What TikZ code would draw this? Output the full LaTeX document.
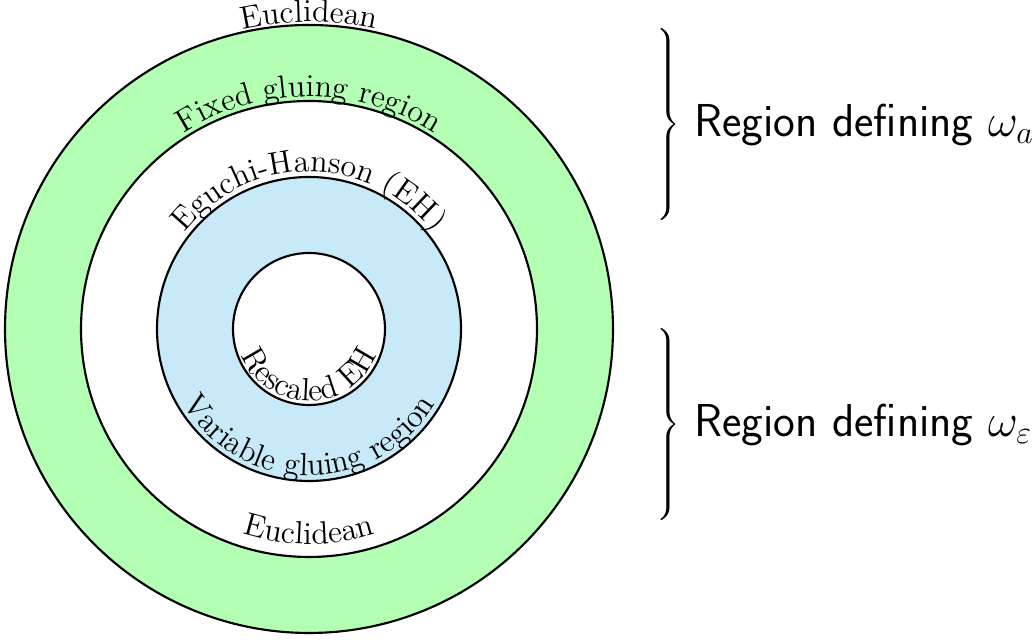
\documentclass[12pt,tikz,border=0pt]{standalone}
\usetikzlibrary{decorations.text}

\definecolor{gluegreen}{RGB}{179,255,179}
\definecolor{glueblue}{RGB}{199,233,248}

\tikzset{
  ring/.style={draw=black, thick},
  overlabel/.style={decorate, decoration={text along path, text={#1}, text align=center}},
  regionlabel/.style={anchor=west, inner sep=0pt, font=\sffamily\Large},
}

\begin{document}
\begin{tikzpicture}
    \useasboundingbox (-4.066,-4.118) rectangle (9.553,4.329);

    % annuli
    \fill[gluegreen] (0,0) circle (4);
    \fill[white] (0,0) circle (3);
    \fill[glueblue] (0,0) circle (2);
    \fill[white] (0,0) circle (1);
    \foreach \r in {1,...,4}
      \draw[ring] (0,0) circle (\r);

    % labels on top, reading clockwise
    \path[overlabel={Euclidean}] (180:4.04) arc[start angle=180, end angle=0, radius=4.04];
    \path[overlabel={Fixed gluing region}] (180:3.06) arc[start angle=180, end angle=0, radius=3.06];
    \path[overlabel={Eguchi-Hanson (EH)}] (180:2.07) arc[start angle=180, end angle=0, radius=2.07];

    % labels at the bottom, reading anticlockwise
    \path[overlabel={Euclidean}] (180:2.83) arc[start angle=180, end angle=360, radius=2.83];
    \path[overlabel={Variable gluing region}] (180:1.93) arc[start angle=180, end angle=360, radius=1.93];
    \path[overlabel={Rescaled EH}] (180:0.95) arc[start angle=180, end angle=360, radius=0.95];

    % braces
    \node[regionlabel] (omegaA) at (4.52,2.67)
      {$\left.\vrule height 1.15cm depth 1.15cm width 0pt\right\}$ Region defining $\omega_a$};
    \node[regionlabel] (omegaE) at (4.52,-1.28)
      {$\left.\vrule height 1.15cm depth 1.15cm width 0pt\right\}$ Region defining $\omega_\varepsilon$};
\end{tikzpicture}
\end{document}
